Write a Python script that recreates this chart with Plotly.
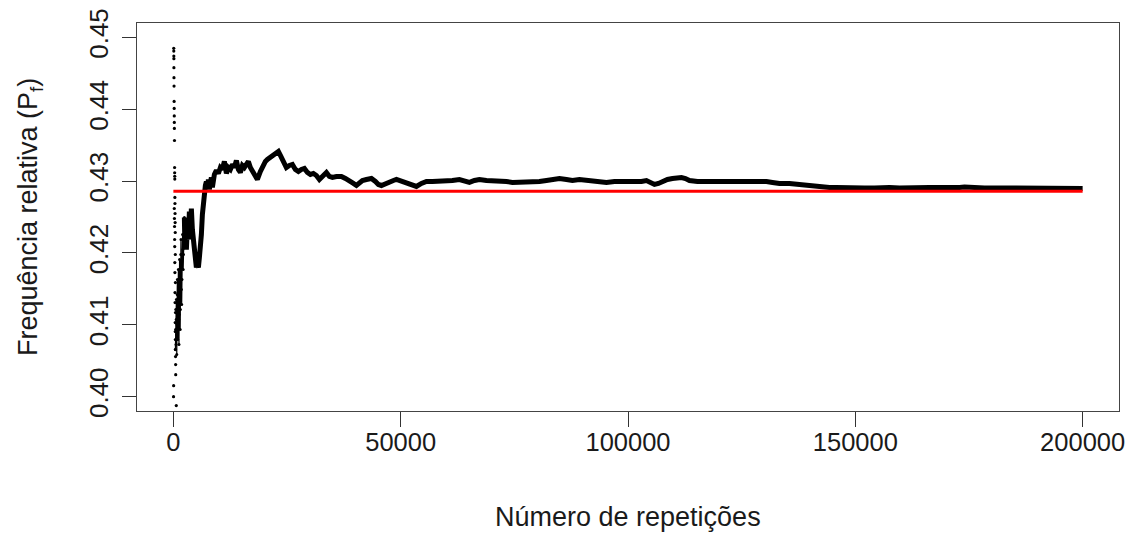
import plotly.graph_objects as go

# Frequência relativa acumulada de "sucessos" ao longo das repetições da simulação.

# Primeiras repetições: pontos isolados (n pequeno, grandes oscilações)
inicio_n = [80, 90, 100, 110, 120, 135, 150, 165, 180, 195, 210, 225, 245, 270, 285, 300, 315,
            330, 350, 200, 370, 230, 390, 260, 410, 280, 300, 430, 320, 340, 450, 360, 380,
            470, 400, 420, 440, 460, 480, 500, 520, 60, 40, 640]
inicio_f = [0.44847, 0.44809, 0.44740, 0.44703, 0.44578, 0.44439, 0.44322, 0.44109, 0.44011,
            0.43907, 0.43816, 0.43733, 0.43565, 0.43189, 0.43116, 0.43067, 0.43028,
            0.42772, 0.42688, 0.42618, 0.42549, 0.42479, 0.42423, 0.42368, 0.42284, 0.42187,
            0.42089, 0.41978, 0.41866, 0.41727, 0.41588, 0.41448, 0.41309, 0.41170, 0.41031,
            0.40905, 0.40794, 0.40655, 0.40557, 0.40446, 0.40306, 0.40153, 0.40000, 0.39875]

# Trecho inicial ainda bastante ruidoso
ruido_n = [440, 484, 528, 572, 616, 660, 704, 748, 792, 836, 880, 924, 968, 1012, 1056, 1100,
           1144, 1188, 1232, 1276, 1320, 1364, 1408, 1452, 1496, 1540, 1584, 1628, 1672, 1716,
           1760, 1826, 1892, 1958, 2024, 2090, 2156, 2222, 2288, 2354, 2420]
ruido_f = [0.40655, 0.40933, 0.41212, 0.40724, 0.41072, 0.41351, 0.40864, 0.40585, 0.41003,
           0.41421, 0.41630, 0.41212, 0.40794, 0.40933, 0.41351, 0.41769, 0.41490, 0.41072,
           0.40724, 0.41142, 0.41560, 0.41908, 0.41699, 0.41351, 0.40933, 0.41212, 0.41630,
           0.41978, 0.42187, 0.41838, 0.41490, 0.41281, 0.41630, 0.41978, 0.42256, 0.42047,
           0.41769, 0.41978, 0.42256, 0.42437, 0.42493]

# Trajetória principal da frequência relativa
rep_n = [2420, 2530, 2640, 2860, 3080, 3300, 3520, 3740, 3960, 4180, 4400, 4620, 4840, 5060,
         5280, 5500, 5720, 5940, 6160, 6380, 6600, 6820, 7040, 7260, 7480, 7700, 7920, 8140,
         8360, 8580, 8800, 9020, 9460, 9900, 10340, 10780, 11220, 11660, 12100, 12540, 12980,
         13420, 13860, 14300, 14740, 15180, 15620, 16060, 16500, 16940, 17380, 17820, 18480,
         19140, 19800, 20240, 20680, 21340, 22000, 22660, 23100, 23540, 24200, 24860, 25520,
         26180, 26840, 27500, 28160, 28820, 29480, 30140, 30800, 31460, 32120, 33000, 33660,
         34320, 34980, 35860, 36960, 37840, 38720, 39600, 40260, 40920, 41580, 42460, 43560,
         44440, 45100, 45760, 46640, 47520, 48400, 49060, 50160, 51260, 52360, 53460, 54560,
         55660, 56980, 58520, 60060, 61380, 62920, 64020, 65120, 66220, 67320, 68860, 70180,
         71720, 73260, 74580, 76120, 77660, 78980, 80520, 82060, 83380, 84920, 86460, 87780,
         89320, 91520, 93280, 95260, 97020, 98780, 100320, 101860, 102960, 104060, 104940,
         105820, 106700, 107580, 108680, 109780, 110880, 111760, 112640, 113520, 115280,
         117260, 119020, 120780, 122760, 124520, 126720, 128920, 130460, 131780, 133320,
         135520, 137280, 139260, 141020, 142780, 144320, 145860, 147620, 149820, 152020,
         154220, 155320, 156420, 157520, 159720, 161920, 163020, 164120, 166320, 168520,
         170720, 172920, 174020, 176220, 178420, 180620, 182820, 185020, 187220, 189420,
         191620, 193820, 196040, 198240, 200000]
rep_f = [0.42493, 0.42117, 0.42354, 0.42047, 0.42382, 0.42187, 0.42577, 0.42256, 0.42618,
         0.42326, 0.42187, 0.42047, 0.41908, 0.41797, 0.41852, 0.41797, 0.41936, 0.42047,
         0.42256, 0.42535, 0.42744, 0.42855, 0.42939, 0.42994, 0.42911, 0.43022, 0.42883,
         0.42981, 0.43050, 0.42911, 0.43022, 0.43092, 0.43148, 0.43106, 0.43189, 0.43162,
         0.43273, 0.43106, 0.43189, 0.43162, 0.43231, 0.43189, 0.43287, 0.43162, 0.43120,
         0.43217, 0.43189, 0.43245, 0.43273, 0.43189, 0.43134, 0.43078, 0.43022, 0.43134,
         0.43231, 0.43273, 0.43301, 0.43329, 0.43357, 0.43398, 0.43412, 0.43357, 0.43273,
         0.43189, 0.43217, 0.43231, 0.43162, 0.43134, 0.43162, 0.43176, 0.43120, 0.43092,
         0.43106, 0.43078, 0.43022, 0.43078, 0.43120, 0.43064, 0.43050, 0.43064, 0.43064,
         0.43036, 0.43008, 0.42967, 0.42939, 0.42967, 0.43008, 0.43022, 0.43036, 0.42994,
         0.42953, 0.42939, 0.42967, 0.42981, 0.43008, 0.43022, 0.42994, 0.42981, 0.42953,
         0.42925, 0.42967, 0.42994, 0.42994, 0.42994, 0.43008, 0.43008, 0.43022, 0.43008,
         0.42981, 0.43008, 0.43022, 0.43008, 0.43008, 0.42994, 0.42994, 0.42981, 0.42981,
         0.42994, 0.42994, 0.42994, 0.43008, 0.43022, 0.43036, 0.43022, 0.43008, 0.43022,
         0.43008, 0.42994, 0.42981, 0.42994, 0.42994, 0.42981, 0.42981, 0.42994, 0.43008,
         0.42981, 0.42953, 0.42967, 0.42994, 0.43022, 0.43036, 0.43050, 0.43050, 0.43036,
         0.43008, 0.42994, 0.42994, 0.42994, 0.42994, 0.43008, 0.43008, 0.43008, 0.43008,
         0.42994, 0.42981, 0.42967, 0.42967, 0.42953, 0.42939, 0.42925, 0.42925, 0.42911,
         0.42911, 0.42904, 0.42904, 0.42904, 0.42904, 0.42911, 0.42918, 0.42911, 0.42904,
         0.42911, 0.42911, 0.42904, 0.42911, 0.42911, 0.42904, 0.42911, 0.42918, 0.42904,
         0.42904, 0.42904, 0.42904, 0.42904, 0.42904, 0.42904, 0.42904, 0.42911, 0.42904,
         0.42904, 0.42897]

# Probabilidade teórica (3/7)
prob_teorica = 3 / 7
ref_n = [1, 200000]

x_ticks = [0, 50000, 100000, 150000, 200000]
x_labels = ["0", "50000", "100000", "150000", "200000"]
y_ticks = [0.40, 0.41, 0.42, 0.43, 0.44, 0.45]
y_labels = ["0.40", "0.41", "0.42", "0.43", "0.44", "0.45"]

FONT = "Liberation Sans, Arial, sans-serif"
TXT = "#1a1a1a"

fig = go.Figure()
fig.add_trace(go.Scatter(x=ruido_n, y=ruido_f, mode="lines+markers",
                         line=dict(color="black", width=1.2),
                         marker=dict(color="black", size=3), hoverinfo="skip"))
fig.add_trace(go.Scatter(x=rep_n, y=rep_f, mode="lines",
                         line=dict(color="black", width=5), hoverinfo="skip"))
fig.add_trace(go.Scatter(x=inicio_n, y=inicio_f, mode="markers",
                         marker=dict(color="black", size=3.2), hoverinfo="skip"))
fig.add_trace(go.Scatter(x=ref_n, y=[prob_teorica, prob_teorica], mode="lines",
                         line=dict(color="#ff0000", width=3), hoverinfo="skip"))

axis_common = dict(showgrid=False, zeroline=False, showline=True, mirror=True,
                   linecolor="#444444", linewidth=1.2, ticks="outside",
                   tickcolor="#333333", tickwidth=1.2, ticklabeloverflow="allow",
                   automargin=False)

fig.update_xaxes(range=[-8000, 208000], tickvals=x_ticks, ticktext=x_labels,
                 ticklen=15, ticklabelstandoff=-7,
                 tickfont=dict(family=FONT, size=25.5, color=TXT), **axis_common)
fig.update_yaxes(range=[0.398, 0.452], tickvals=y_ticks, ticktext=y_labels,
                 ticklen=14, tickangle=-90, ticklabelstandoff=4,
                 tickfont=dict(family=FONT, size=26, color=TXT), **axis_common)

fig.update_layout(
    width=1126, height=533,
    margin=dict(l=137, r=7, t=23, b=122),
    paper_bgcolor="white", plot_bgcolor="white",
    showlegend=False,
    font=dict(family=FONT, color=TXT),
    annotations=[
        dict(text="Número de repetições", xref="paper", yref="paper", x=0.5, y=0,
             xanchor="center", yanchor="middle", yshift=-106, showarrow=False,
             font=dict(family=FONT, size=27, color=TXT)),
        dict(text="Frequência relativa (P<sub>f</sub>)", xref="paper", yref="paper",
             x=0, y=0.5, xanchor="center", yanchor="middle", xshift=-107,
             textangle=-90, showarrow=False,
             font=dict(family=FONT, size=27, color=TXT)),
    ],
)

fig.write_html("out.html")
